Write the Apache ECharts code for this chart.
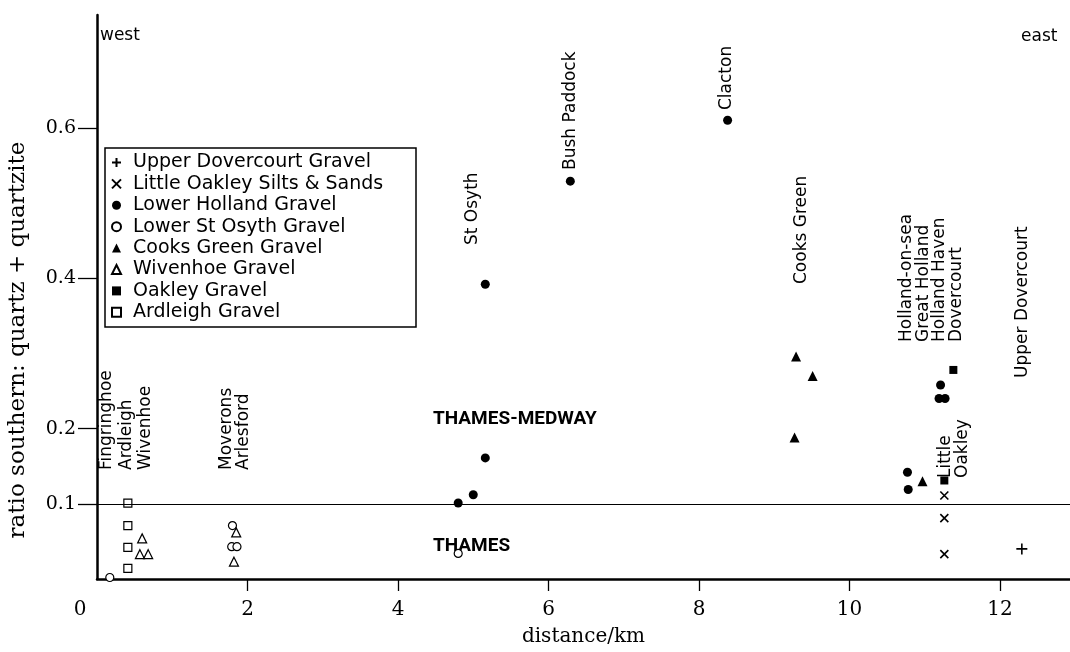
<!DOCTYPE html>
<html>
<head>
<meta charset="utf-8">
<script src="https://cdn.jsdelivr.net/npm/echarts@6/dist/echarts.min.js"></script>
<style>
html, body { margin: 0; padding: 0; background: #fff; }
#content { width: 1070px; height: 652px; }
</style>
</head>
<body>
<div id="content"></div>
<script>
// tick labels
var xTicks = [0, 2, 4, 6, 8, 10, 12];
var yTicks = [0.1, 0.2, 0.4, 0.6];

// [distance/km, ratio]
var upperDovercourt = [[12.29, 0.040]];
var littleOakley = [[11.26, 0.111], [11.26, 0.081], [11.26, 0.033]];
var lowerHolland = [[4.80, 0.101], [5.00, 0.112], [5.16, 0.161], [5.16, 0.392], [6.29, 0.529], [8.38, 0.610],
    [10.77, 0.142], [10.78, 0.119], [11.21, 0.258], [11.19, 0.240], [11.27, 0.240]];
var lowerStOsyth = [[0.17, 0.002], [1.80, 0.071], [1.79, 0.043], [1.86, 0.043], [4.80, 0.034]];
var cooksGreen = [[9.29, 0.296], [9.51, 0.270], [9.27, 0.188], [10.97, 0.130]];
var wivenhoe = [[0.60, 0.054], [0.57, 0.033], [0.68, 0.033], [1.85, 0.062], [1.82, 0.023]];
var oakley = [[11.38, 0.278], [11.26, 0.131]];
var ardleigh = [[0.41, 0.101], [0.41, 0.071], [0.41, 0.042], [0.41, 0.014]];

var seriesNames = ['Upper Dovercourt Gravel', 'Little Oakley Silts & Sands', 'Lower Holland Gravel',
    'Lower St Osyth Gravel', 'Cooks Green Gravel', 'Wivenhoe Gravel', 'Oakley Gravel', 'Ardleigh Gravel'];

// site names, rotated
var siteLabels = [
    ['Fingringhoe', 107, 470], ['Ardleigh', 127, 470], ['Wivenhoe', 146, 470],
    ['Moverons', 227, 470], ['Arlesford', 244, 470],
    ['St Osyth', 473, 245], ['Bush Paddock', 571, 170], ['Clacton', 727, 110],
    ['Cooks Green', 802, 284],
    ['Holland-on-sea', 907, 342], ['Great Holland', 924, 342], ['Holland Haven', 940, 342], ['Dovercourt', 957, 342],
    ['Little', 946, 478], ['Oakley', 963, 478],
    ['Upper Dovercourt', 1023, 378]
];

var myChart = echarts.init(document.getElementById('content'));
var serif = 'DejaVu Serif';
var sans = 'DejaVu Sans';

function txt(x, y, s, opts) {
    opts = opts || {};
    return {
        type: 'text', x: x, y: y, rotation: opts.rot || 0, silent: true,
        style: {
            text: s, fill: '#000',
            font: opts.font || ('17px "' + sans + '"'),
            textAlign: opts.align || 'left', align: opts.align || 'left',
            textVerticalAlign: 'middle', verticalAlign: 'middle'
        }
    };
}

var graphics = [
    { type: 'rect', silent: true, shape: { x: 105, y: 148, width: 311, height: 179 },
      style: { fill: 'none', stroke: '#000', lineWidth: 1.5 } },
    txt(100, 36, 'west'),
    txt(1021, 37, 'east'),
    txt(433, 419, 'THAMES-MEDWAY', { font: 'bold 19px Roboto' }),
    txt(433, 546, 'THAMES', { font: 'bold 19px Roboto' }),
    txt(18, 340, 'ratio southern: quartz + quartzite', { rot: Math.PI / 2, align: 'center', font: '23px "' + serif + '"' })
];
siteLabels.forEach(function (l) {
    graphics.push(txt(l[1], l[2], l[0], { rot: Math.PI / 2 }));
});

var open = { color: '#fff', borderColor: '#000', borderWidth: 1.2, opacity: 1 };
var filled = { color: '#000', opacity: 1 };
var stroke = { color: '#000', borderColor: '#000', borderWidth: 1.6, opacity: 1 };

function sc(name, data, symbol, size, style) {
    return { name: name, type: 'scatter', data: data, symbol: symbol, symbolSize: size, itemStyle: style, z: 3 };
}

var series = [
    sc(seriesNames[0], upperDovercourt, 'path://M0,5L10,5M5,0L5,10', 11, stroke),
    sc(seriesNames[1], littleOakley, 'path://M0,0L10,10M10,0L0,10', 8, stroke),
    sc(seriesNames[2], lowerHolland, 'circle', 9, filled),
    sc(seriesNames[3], lowerStOsyth, 'circle', 8, open),
    sc(seriesNames[4], cooksGreen, 'triangle', 10, filled),
    sc(seriesNames[5], wivenhoe, 'triangle', 9, open),
    sc(seriesNames[6], oakley, 'rect', 8, filled),
    sc(seriesNames[7], ardleigh, 'rect', 8, open)
];
series[2].markLine = {
    silent: true, symbol: ['none', 'none'], label: { show: false },
    lineStyle: { color: '#000', type: 'solid', width: 1.2 },
    data: [{ yAxis: 0.1 }]
};

var option = {
    animation: false,
    backgroundColor: '#fff',
    grid: { left: 97, right: 0, top: 15, bottom: 68 },
    legend: {
        orient: 'vertical', left: 111, top: 153, padding: 0,
        itemWidth: 9, itemHeight: 9, itemGap: 2.4,
        data: seriesNames,
        textStyle: { fontFamily: sans, fontSize: 19, lineHeight: 19, color: '#000', padding: [0, 0, 0, 7] }
    },
    xAxis: {
        type: 'value', min: 0, max: 12.93,
        axisLine: { lineStyle: { color: '#000', width: 2.5 } },
        axisTick: { show: true, customValues: [2, 4, 6, 8, 10, 12], length: 12, lineStyle: { color: '#000', width: 1.3 } },
        axisLabel: {
            customValues: xTicks, margin: 21, color: '#000', fontFamily: serif, fontSize: 20,
            formatter: function (v) { return v === 0 ? '{o|0}' : String(v); },
            rich: { o: { padding: [0, 34, 0, 0], fontFamily: serif, fontSize: 20, color: '#000' } }
        },
        splitLine: { show: false },
        name: 'distance/km', nameLocation: 'middle', nameGap: 48,
        nameTextStyle: { fontFamily: serif, fontSize: 20, color: '#000' }
    },
    yAxis: {
        type: 'value', min: 0, max: 0.75,
        axisLine: { lineStyle: { color: '#000', width: 2.5 } },
        axisTick: { show: true, customValues: yTicks, length: 19, lineStyle: { color: '#000', width: 1.3 } },
        axisLabel: {
            customValues: yTicks, margin: 21, color: '#000', fontFamily: serif, fontSize: 19,
            formatter: function (v) { return v.toFixed(1); }
        },
        splitLine: { show: false }
    },
    graphic: graphics,
    series: series
};

myChart.setOption(option);
</script>
</body>
</html>
